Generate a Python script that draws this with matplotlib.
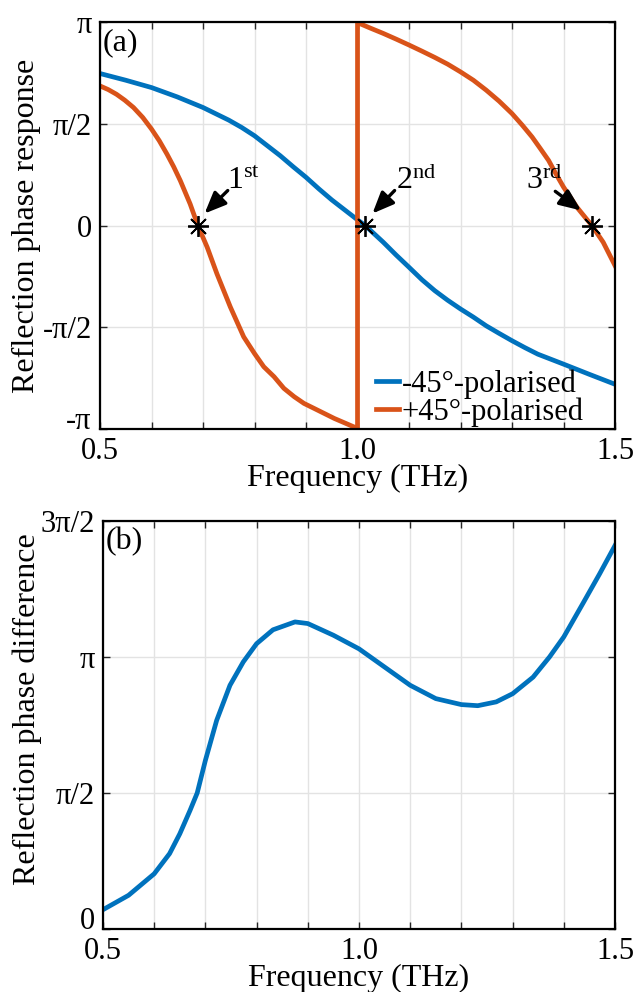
import numpy as np
import matplotlib
matplotlib.use("Agg")
import matplotlib.pyplot as plt

plt.rcParams['font.family'] = ['Liberation Serif', 'DejaVu Serif']
plt.rcParams['mathtext.fontset'] = 'custom'
plt.rcParams['mathtext.rm'] = 'Liberation Serif'
plt.rcParams['mathtext.it'] = 'Liberation Serif:italic'

BLUE = '#0072BD'
ORANGE = '#D95319'

# phase values in units of pi
freq_m45 = [0.50, 0.55, 0.60, 0.65, 0.70, 0.75, 0.775, 0.80, 0.825, 0.85, 0.875,
            0.90, 0.925, 0.95, 0.975, 1.00, 1.015, 1.05, 1.075, 1.10, 1.125, 1.15,
            1.175, 1.20, 1.225, 1.25, 1.275, 1.30, 1.325, 1.35, 1.40, 1.45, 1.50]
phase_m45 = [0.747, 0.714, 0.678, 0.632, 0.58, 0.518, 0.482, 0.441, 0.392, 0.343, 0.289,
             0.237, 0.18, 0.126, 0.077, 0.028, 0.0, -0.082, -0.145, -0.205, -0.266, -0.32,
             -0.367, -0.41, -0.45, -0.493, -0.53, -0.566, -0.6, -0.632, -0.681, -0.731, -0.78]

freq_p45 = [0.50, 0.516, 0.532, 0.548, 0.565, 0.583, 0.60, 0.615, 0.63, 0.643, 0.656,
            0.675, 0.69, 0.708, 0.727, 0.753, 0.779, 0.80, 0.818, 0.838, 0.857, 0.877,
            0.896, 0.916, 0.955, 1.00,
            1.00, 1.025, 1.05, 1.075, 1.10, 1.125, 1.15, 1.175, 1.20, 1.225, 1.25,
            1.275, 1.30, 1.32, 1.339, 1.355, 1.371, 1.385, 1.40, 1.426, 1.455, 1.477, 1.50]
phase_p45 = [0.686, 0.668, 0.645, 0.616, 0.58, 0.531, 0.474, 0.417, 0.351, 0.289, 0.22,
             0.106, 0.0, -0.106, -0.237, -0.40, -0.547, -0.629, -0.694, -0.743, -0.80, -0.841,
             -0.874, -0.899, -0.948, -0.997,
             0.997, 0.97, 0.944, 0.916, 0.887, 0.857, 0.826, 0.793, 0.755, 0.714, 0.665,
             0.611, 0.55, 0.493, 0.435, 0.378, 0.32, 0.255, 0.189, 0.09, 0.0, -0.082, -0.197]

# zero crossings marked on the plot
mark_freq = [0.69, 1.015, 1.455]
mark_labels = ['1$^{\\rm st}$', '2$^{\\rm nd}$', '3$^{\\rm rd}$']

freq_diff = [0.50, 0.55, 0.60, 0.63, 0.65, 0.67, 0.684, 0.70, 0.722, 0.748, 0.774,
             0.80, 0.832, 0.875, 0.90, 0.95, 1.00, 1.05, 1.10, 1.15, 1.20, 1.232,
             1.268, 1.30, 1.34, 1.372, 1.40, 1.437, 1.47, 1.50]
phase_diff = [0.071, 0.124, 0.203, 0.277, 0.35, 0.436, 0.50, 0.62, 0.767, 0.896, 0.982,
              1.049, 1.10, 1.129, 1.123, 1.08, 1.030, 0.963, 0.896, 0.847, 0.825, 0.821,
              0.835, 0.865, 0.926, 1.0, 1.074, 1.196, 1.306, 1.41]

x_ticks = np.round(np.arange(0.5, 1.51, 0.1), 1)
x_ticklabels = ['0.5', '', '', '', '', '1.0', '', '', '', '', '1.5']

fig = plt.figure(figsize=(6.33, 9.92), dpi=100)
ax1 = fig.add_axes([0.158, 0.5675, 0.8136, 0.4103])
ax2 = fig.add_axes([0.1627, 0.0635, 0.8089, 0.4113])

fs = 23


def style(ax):
    ax.set_xlim(0.5, 1.5)
    ax.set_xticks(x_ticks)
    ax.set_xticklabels(x_ticklabels)
    ax.grid(True, color='#e3e3e3', linewidth=1.0)
    ax.set_axisbelow(True)
    ax.tick_params(direction='in', top=True, right=True, length=5, width=1.0,
                   color='#262626', labelsize=22, pad=6)
    ax.tick_params(axis='x', pad=6)
    for s in ax.spines.values():
        s.set_linewidth(1.6)
    ax.set_xlabel('Frequency (THz)', fontsize=fs, labelpad=-2)


# (a) reflection phase of each polarisation
ax1.plot(freq_m45, np.array(phase_m45) * np.pi, color=BLUE, lw=3.4,
         label='-45°-polarised')
ax1.plot(freq_p45, np.array(phase_p45) * np.pi, color=ORANGE, lw=3.4,
         label='+45°-polarised')
ax1.plot(mark_freq, [0, 0, 0], ls='none', marker=(8, 2, 0), ms=15,
         mec='black', mew=1.3)
style(ax1)
ax1.set_ylim(-np.pi, np.pi)
ax1.set_yticks(np.array([-1, -0.5, 0, 0.5, 1]) * np.pi)
ax1.set_yticklabels(['-π', '-π/2', '0', 'π/2', 'π'])
ax1.get_yticklabels()[0].set_va('baseline')
ax1.set_ylabel('Reflection phase response', fontsize=fs)
ax1.yaxis.set_label_coords(-0.115, 0.5)
ax1.text(0.006, 0.985, '(a)', transform=ax1.transAxes, fontsize=fs,
         va='top', ha='left')

arrow = dict(arrowstyle='-|>,head_length=1.3,head_width=0.55', color='black',
             lw=2.4, shrinkA=0, shrinkB=0)
arrow_tails = [(0.748, 0.172), (1.072, 0.172), (1.384, 0.168)]
arrow_tips = [(0.703, 0.059), (1.029, 0.059), (1.434, 0.074)]
text_left = [0.746, 1.074, 1.327]
for lab, tail, tip, tx in zip(mark_labels, arrow_tails, arrow_tips, text_left):
    ax1.annotate('', xy=(tip[0], tip[1] * np.pi), xytext=(tail[0], tail[1] * np.pi),
                 arrowprops=arrow)
    ax1.text(tx, 0.18 * np.pi, lab, fontsize=fs, ha='left', va='baseline')

ax1.legend(loc='lower right', bbox_to_anchor=(0.975, -0.04), frameon=False,
           fontsize=22, handlelength=0.75, handletextpad=0.1,
           labelspacing=-0.05, borderaxespad=0.2)

# (b) phase difference between the two polarisations
ax2.plot(freq_diff, np.array(phase_diff) * np.pi, color=BLUE, lw=3.4)
style(ax2)
ax2.set_ylim(0, 1.5 * np.pi)
ax2.set_yticks(np.array([0, 0.5, 1, 1.5]) * np.pi)
ax2.set_yticklabels(['0', 'π/2', 'π', '3π/2'])
ax2.get_yticklabels()[0].set_va('baseline')
ax2.set_ylabel('Reflection phase difference', fontsize=fs)
ax2.yaxis.set_label_coords(-0.12, 0.54)
ax2.text(0.006, 0.985, '(b)', transform=ax2.transAxes, fontsize=fs,
         va='top', ha='left')

fig.savefig('out.png', dpi=100)
